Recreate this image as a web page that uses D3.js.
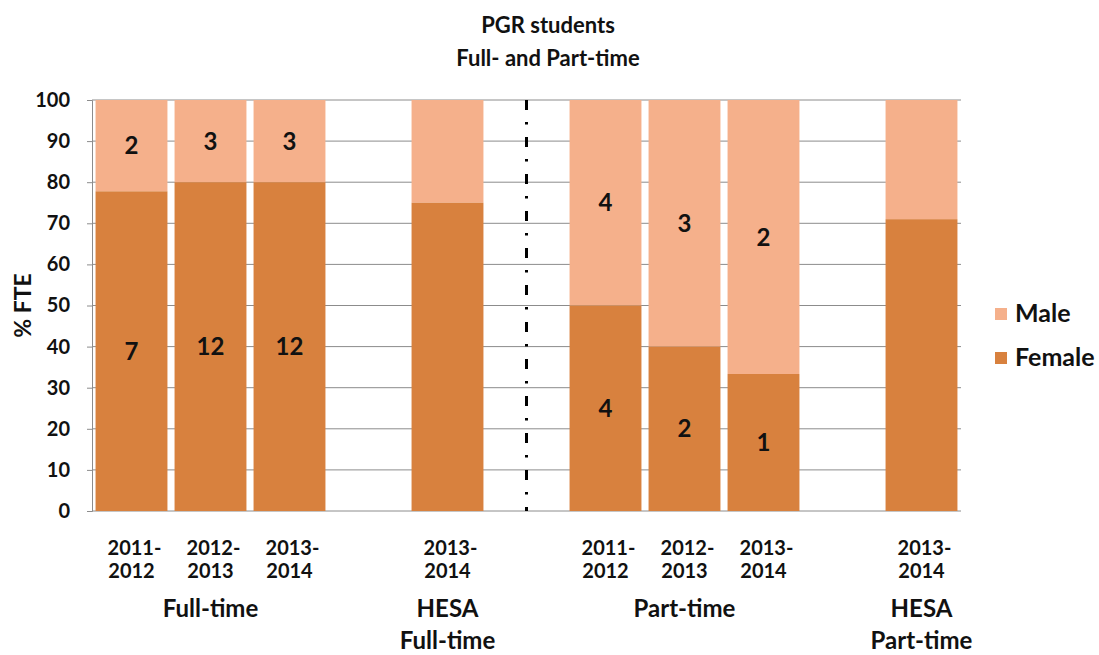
<!DOCTYPE html>
<html>
<head>
<meta charset="utf-8">
<script src="https://cdn.jsdelivr.net/npm/d3@7"></script>
<style>
  html, body { margin: 0; padding: 0; background: #fff; }
  text { font-family: Lato, "Open Sans", sans-serif; font-weight: bold; fill: #111; }
</style>
</head>
<body>
<svg id="chart" width="1099" height="655"></svg>
<script>
// Slots along the x axis; empty slots separate the groups
const slots = ["ft1", "ft2", "ft3", "gapA", "hesaFt", "divider", "pt1", "pt2", "pt3", "gapB", "hesaPt"];
const yearLabels = {
  ft1: ["2011-", "2012"], ft2: ["2012-", "2013"], ft3: ["2013-", "2014"],
  hesaFt: ["2013-", "2014"],
  pt1: ["2011-", "2012"], pt2: ["2012-", "2013"], pt3: ["2013-", "2014"],
  hesaPt: ["2013-", "2014"]
};
// Headcounts behind the departmental bars
const countBars = ["ft1", "ft2", "ft3", "pt1", "pt2", "pt3"];
const femaleCounts = [7, 12, 12, 4, 2, 1];
const maleCounts = [2, 3, 3, 4, 3, 2];
// HESA benchmark percentages (female share)
const hesaBars = ["hesaFt", "hesaPt"];
const hesaFemalePct = [75, 71];

const groupLabels = [
  { slot: "ft2", lines: ["Full-time"] },
  { slot: "hesaFt", lines: ["HESA", "Full-time"] },
  { slot: "pt2", lines: ["Part-time"] },
  { slot: "hesaPt", lines: ["HESA", "Part-time"] }
];
const yTicks = [0, 10, 20, 30, 40, 50, 60, 70, 80, 90, 100];
const seriesNames = ["Male", "Female"];
const colors = { Female: "#D8813E", Male: "#F5B08B" };

// Build stacked percentage rows
const rows = [];
countBars.forEach((s, i) => {
  const tot = femaleCounts[i] + maleCounts[i];
  const f = femaleCounts[i] / tot * 100;
  rows.push({ slot: s, female: f, male: 100 - f, fLabel: femaleCounts[i], mLabel: maleCounts[i] });
});
hesaBars.forEach((s, i) => {
  rows.push({ slot: s, female: hesaFemalePct[i], male: 100 - hesaFemalePct[i], fLabel: null, mLabel: null });
});

const svg = d3.select("#chart");
const margin = { left: 92, right: 138, top: 100, bottom: 144 };
const W = 1099, H = 655;

const x = d3.scaleBand().domain(slots).range([margin.left, W - margin.right]).paddingInner(0.09).paddingOuter(0.045);
const y = d3.scaleLinear().domain([0, 100]).range([H - margin.bottom, margin.top]);

// Gridlines
svg.append("g").selectAll("line").data(yTicks.filter(d => d > 0)).join("line")
  .attr("x1", margin.left).attr("x2", W - margin.right)
  .attr("y1", d => y(d)).attr("y2", d => y(d))
  .attr("stroke", "#8c8c8c").attr("stroke-width", 1);

// Y axis
const yAxis = svg.append("g").attr("transform", `translate(${margin.left},0)`)
  .call(d3.axisLeft(y).tickValues(yTicks).tickSize(5).tickPadding(17));
yAxis.select(".domain").attr("stroke", "#8c8c8c");
yAxis.selectAll(".tick line").attr("stroke", "#8c8c8c");
yAxis.selectAll(".tick text").attr("font-size", 20).attr("font-family", "Lato, sans-serif").attr("font-weight", "bold").attr("fill", "#111");

// Bottom axis line
svg.append("line").attr("x1", margin.left).attr("x2", W - margin.right)
  .attr("y1", y(0)).attr("y2", y(0)).attr("stroke", "#8c8c8c");

// Stacked bars
const bars = svg.append("g");
rows.forEach(r => {
  bars.append("rect").attr("x", x(r.slot)).attr("width", x.bandwidth())
    .attr("y", y(100)).attr("height", y(r.female) - y(100)).attr("fill", colors.Male);
  bars.append("rect").attr("x", x(r.slot)).attr("width", x.bandwidth())
    .attr("y", y(r.female)).attr("height", y(0) - y(r.female)).attr("fill", colors.Female);
  const cx = x(r.slot) + x.bandwidth() / 2;
  if (r.fLabel !== null) {
    bars.append("text").attr("x", cx).attr("y", y(r.female / 2)).attr("dy", "0.36em")
      .attr("text-anchor", "middle").attr("font-size", 24).text(r.fLabel);
    bars.append("text").attr("x", cx).attr("y", y(r.female + r.male / 2)).attr("dy", "0.36em")
      .attr("text-anchor", "middle").attr("font-size", 24).text(r.mLabel);
  }
});

// Divider between full-time and part-time
const dx = x("divider") + x.bandwidth() / 2;
svg.append("line").attr("x1", dx).attr("x2", dx).attr("y1", y(100)).attr("y2", y(0))
  .attr("stroke", "#000").attr("stroke-width", 3).attr("stroke-dasharray", "10,12,2.5,12.5");

// Category labels
Object.entries(yearLabels).forEach(([s, lines]) => {
  const cx = x(s) + x.bandwidth() / 2;
  lines.forEach((t, i) => {
    svg.append("text").attr("x", cx + (i === 0 ? 3 : 0)).attr("y", 555 + i * 23)
      .attr("text-anchor", "middle").attr("font-size", 20).text(t);
  });
});
groupLabels.forEach(g => {
  const cx = x(g.slot) + x.bandwidth() / 2;
  g.lines.forEach((t, i) => {
    svg.append("text").attr("x", cx).attr("y", 617 + i * 32)
      .attr("text-anchor", "middle").attr("font-size", 24).text(t);
  });
});

// Y axis title
svg.append("text").attr("transform", `translate(31,${(y(0) + y(100)) / 2}) rotate(-90)`)
  .attr("text-anchor", "middle").attr("font-size", 23).text("% FTE");

// Title
const title = ["PGR students", "Full- and Part-time"];
title.forEach((t, i) => {
  svg.append("text").attr("x", 548).attr("y", 33 + i * 33).attr("text-anchor", "middle")
    .attr("font-size", 22).text(t);
});

// Legend
const legend = svg.append("g").attr("transform", "translate(995,303)");
seriesNames.forEach((n, i) => {
  const g = legend.append("g").attr("transform", `translate(0,${i * 44})`);
  g.append("rect").attr("x", 0).attr("y", 5).attr("width", 12).attr("height", 12).attr("fill", colors[n]);
  g.append("text").attr("x", 20).attr("y", 10).attr("dy", "0.36em").attr("font-size", 25).text(n);
});
</script>
</body>
</html>
